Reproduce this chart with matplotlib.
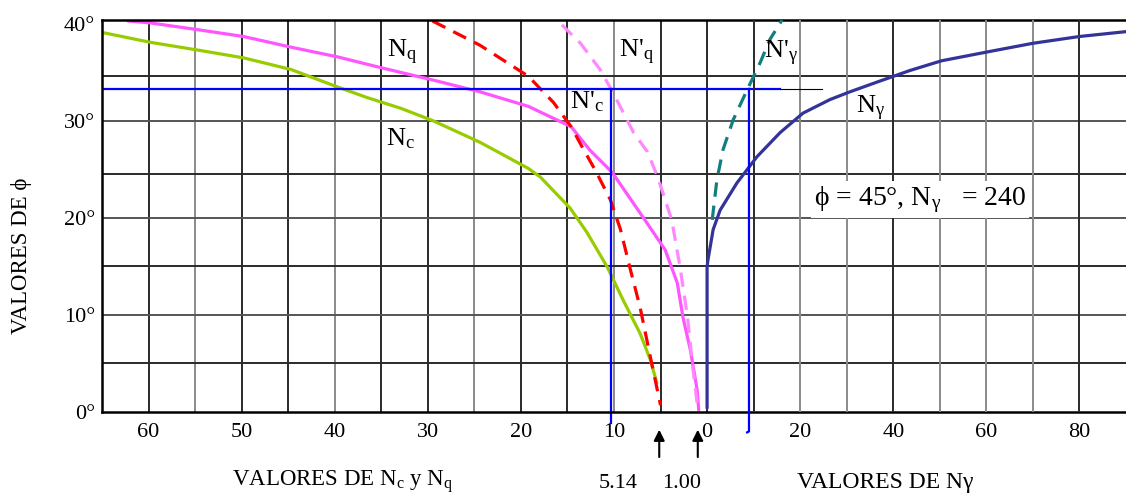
import matplotlib
matplotlib.use('Agg')
import matplotlib.pyplot as plt
import numpy as np

# ---- datos (phi en grados) ----
# lado izquierdo: Nc, Nq (escala invertida)
nc_vals = [64.9, 59.8, 54.7, 49.8, 44.7, 39.7, 36.5, 32.9, 29.4, 24.4, 19.2, 17.9, 14.7,
           12.9, 10.7, 9.0, 7.2, 6.1, 5.4]
nc_phi = [39.1, 38.1, 37.3, 36.5, 35.3, 33.5, 32.4, 31.3, 30.0, 27.8, 25.1, 24.2, 21.0,
          18.5, 14.9, 11.5, 8.1, 5.4, 3.0]

nq_vals = [62.2, 59.8, 54.7, 49.8, 44.7, 39.7, 35.1, 29.4, 24.4, 19.2, 14.6, 12.6, 10.2,
           6.9, 4.5, 3.2, 2.6, 1.8, 1.07, 0.9]
nq_phi = [40.3, 40.1, 39.4, 38.7, 37.6, 36.6, 35.5, 34.2, 33.0, 31.5, 29.4, 27.0, 24.7,
          20.1, 16.7, 13.3, 9.8, 6.4, 2.3, 0.2]

nc2_vals = [29.5, 24.4, 19.2, 16.5, 14.6, 13.3, 12.0, 10.4, 9.3, 8.3, 7.2, 6.1, 5.0]
nc2_phi = [40.3, 37.8, 34.6, 31.9, 29.4, 27.1, 24.9, 21.9, 18.8, 14.9, 10.8, 5.7, 0.7]

nq2_vals = [15.6, 13.6, 11.5, 10.1, 7.9, 6.4, 5.3, 3.8, 2.9, 2.1, 1.6, 1.07]
nq2_phi = [39.9, 38.0, 35.3, 32.9, 28.8, 26.8, 24.2, 19.8, 14.9, 9.8, 5.1, 0.9]

# lado derecho: N gamma
ng_vals = [0.0, 0.0, 0.0, 0.2, 1.3, 2.8, 6.4, 10.7, 15.7, 20.6, 26.4, 30.7, 36.5, 43.6,
           50.4, 61.2, 70.0, 80.0, 90.0]
ng_phi = [0.4, 8.0, 15.0, 15.7, 18.8, 20.8, 23.6, 26.3, 28.8, 30.8, 32.2, 33.0, 34.0, 35.2,
          36.2, 37.2, 38.0, 38.7, 39.2]

ng2_vals = [1.1, 2.1, 3.4, 5.6, 8.6, 11.4, 13.5, 16.1]
ng2_phi = [19.8, 23.9, 27.0, 30.1, 33.2, 36.0, 38.4, 40.4]

# lineas de referencia (azules)
phi_ref = 33.3
nc_ref = 10.3
ng_ref = 9.0
ng_ref_end = 15.7
ng_ref_thin = 24.7

left_ticks = [60, 50, 40, 30, 20, 10, 0]
right_ticks = [20, 40, 60, 80]
phi_ticks = [0, 10, 20, 30, 40]
h_grid = [5, 10, 15, 20, 24.5, 30, 34.6]

W, H = 1126, 497
SERIF = ['Liberation Serif', 'DejaVu Serif']

plt.rcParams['font.family'] = SERIF
plt.rcParams['mathtext.fontset'] = 'custom'
plt.rcParams['mathtext.rm'] = 'Liberation Serif'
plt.rcParams['mathtext.it'] = 'Liberation Serif:italic'


def px(x, y):
    return x / W, 1 - y / H


fig = plt.figure(figsize=(W / 100, H / 100), dpi=100, facecolor='white')
ax = fig.add_axes([102 / W, (H - 412) / H, (W - 102) / W, 392 / H])
ax.set_xlim(65, -45)
ax.set_ylim(0, 40.4)

ax2 = ax.twiny()
ax2.set_xlim(-130, 90)

# rejilla
dark, light = '#2a2a2a', '#8a8a8a'
for i, n in enumerate(range(5, 65, 5)):
    ax.axvline(n, color=dark if i % 3 != 1 else light, lw=1.4, zorder=1)
ax.axvline(0, color=dark, lw=1.4, zorder=1)
for i, g in enumerate(range(10, 90, 10)):
    ax2.axvline(g, color=dark if i in (0, 3, 7) else light, lw=1.4, zorder=1)
for i, p in enumerate(h_grid):
    ax.axhline(p, color=dark if i % 2 == 0 else '#555555', lw=1.4, zorder=1)

# curvas
style = dict(lw=2.3, solid_joinstyle='round', solid_capstyle='round')
dstyle = dict(lw=2.3, dashes=(4.5, 2.8), dash_joinstyle='round')
ax.plot(nc_vals, nc_phi, color='#99CC00', zorder=3, **style)
ax.plot(nq_vals, nq_phi, color='#FF55FF', zorder=3, **style)
ax.plot(nc2_vals, nc2_phi, color='#FF0000', zorder=4, **dstyle)
ax.plot(nq2_vals, nq2_phi, color='#FF88FF', zorder=4, **dstyle)
ax2.plot(ng_vals, ng_phi, color='#333399', zorder=3, **style)
ax2.plot(ng2_vals, ng2_phi, color='#117F7F', zorder=4, **dstyle)

# lineas azules de referencia
xend = ax2.transAxes.inverted().transform(ax2.transData.transform((ng_ref_end, 0)))[0]
ax.axhline(phi_ref, xmax=xend, color='#0000FF', lw=1.6, zorder=5)
ax2.plot([ng_ref_end, ng_ref_thin], [phi_ref, phi_ref], color='black', lw=0.8, zorder=5)
ax.plot([nc_ref, nc_ref], [phi_ref, -1.1], color='#0000FF', lw=1.6, zorder=5, clip_on=False)
ax2.plot([ng_ref, ng_ref, ng_ref - 0.4], [phi_ref, -2.0, -2.1], color='#0000FF', lw=1.6,
         zorder=5, clip_on=False)

# ejes
for s in ['left', 'bottom', 'top']:
    ax.spines[s].set_linewidth(1.8)
    ax.spines[s].set_zorder(6)
ax.spines['right'].set_visible(False)
for s in ax2.spines.values():
    s.set_visible(False)

ax.set_xticks(left_ticks)
ax.set_xticklabels([str(t) for t in left_ticks])
ax2.set_xticks(right_ticks)
ax2.set_xticklabels([str(t) for t in right_ticks])
ax2.xaxis.set_ticks_position('bottom')
ax.tick_params(axis='x', length=0, pad=8, labelsize=16)
ax2.tick_params(axis='x', length=0, pad=8, labelsize=16)
ax.set_yticks(phi_ticks)
ax.set_yticklabels([f'{t}°' for t in phi_ticks])
ax.tick_params(axis='y', length=0, pad=5, labelsize=16)

# textos de las curvas
lab = dict(fontsize=19, ha='left', va='baseline')
fig.text(*px(387, 57), r'N$_\mathrm{q}$', **lab)
fig.text(*px(386, 145), r'N$_\mathrm{c}$', **lab)
fig.text(*px(570, 108), r"N'$_\mathrm{c}$", **lab)
fig.text(*px(619, 57), r"N'$_\mathrm{q}$", **lab)
fig.text(*px(764, 58), r"N'$_\mathrm{\gamma}$", **lab)
fig.text(*px(856, 113), r'N$_\mathrm{\gamma}$', **lab)
fig.text(*px(814, 205), 'ϕ = 45°, N$_\\mathrm{\\gamma}$   = 240', fontsize=20, ha='left',
         va='baseline', family=SERIF,
         bbox=dict(facecolor='white', edgecolor='none', pad=2))

# etiquetas de ejes
fig.text(*px(22, 256), 'VALORES DE ϕ', rotation=90, fontsize=16.5, ha='center',
         va='center', family=SERIF)
fig.text(*px(232, 486), r'VALORES DE N$_\mathrm{c}$ y N$_\mathrm{q}$', fontsize=16.5,
         ha='left', va='baseline')
fig.text(*px(797, 488), 'VALORES DE Nγ', fontsize=17, ha='left', va='baseline', family=SERIF)
fig.text(*px(618, 488), '5.14', fontsize=16, ha='center', va='baseline')
fig.text(*px(682, 488), '1.00', fontsize=16, ha='center', va='baseline')

# flechas
xt = ax.get_xaxis_transform()
for v in [5.14, 1.00]:
    ax.annotate('', xy=(v, -0.038), xytext=(v, -0.122), xycoords=xt, textcoords=xt,
                arrowprops=dict(arrowstyle='-|>', color='black', lw=1.5,
                                mutation_scale=16), annotation_clip=False)

fig.savefig('out.png', dpi=100, facecolor='white')
